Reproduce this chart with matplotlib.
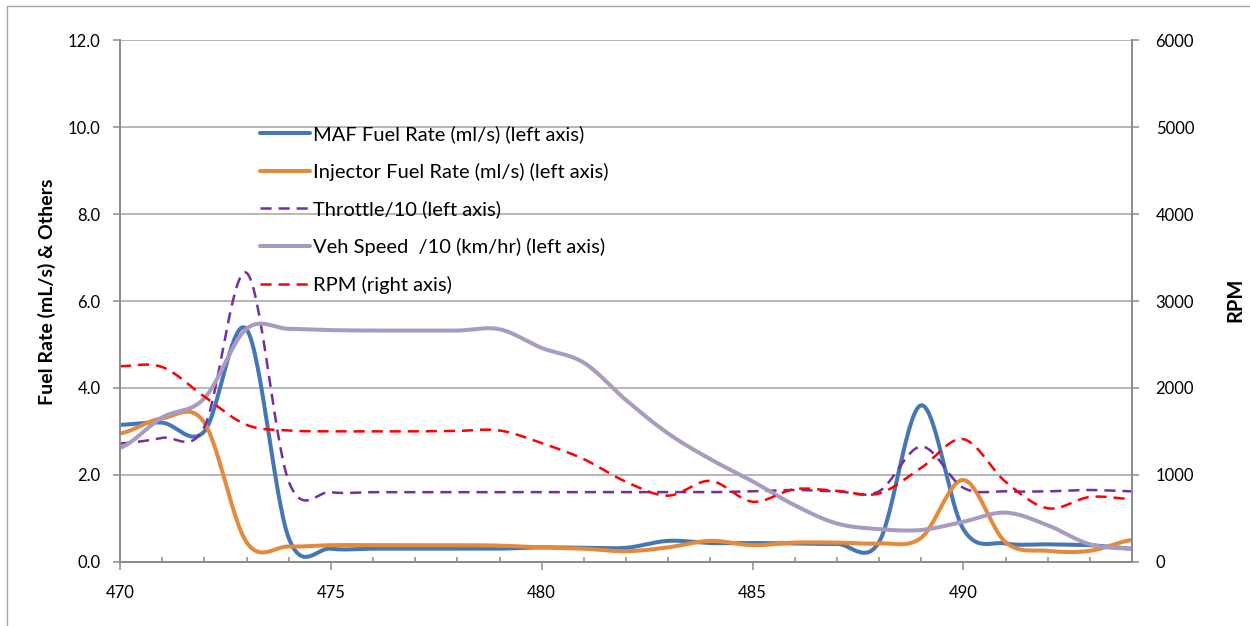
import numpy as np
import matplotlib
matplotlib.use("Agg")
import matplotlib.pyplot as plt
from matplotlib.patches import Rectangle
from matplotlib.ticker import MultipleLocator, FormatStrFormatter

plt.rcParams['font.family'] = ['Lato', 'DejaVu Sans']
plt.rcParams['lines.scale_dashes'] = False

# time axis (s)
time_s = np.arange(470, 495)

maf_fuel = [3.15, 3.2, 3.0, 5.35, 0.55, 0.3, 0.3, 0.3, 0.3, 0.3, 0.33, 0.32, 0.32,
            0.48, 0.43, 0.43, 0.42, 0.41, 0.45, 3.6, 0.75, 0.42, 0.4, 0.38, 0.3]
injector_fuel = [2.95, 3.3, 3.2, 0.45, 0.35, 0.38, 0.38, 0.38, 0.38, 0.37, 0.33, 0.3, 0.24,
                 0.33, 0.48, 0.38, 0.44, 0.44, 0.42, 0.55, 1.88, 0.45, 0.25, 0.25, 0.5]
throttle_10 = [2.72, 2.85, 3.1, 6.65, 1.85, 1.6, 1.6, 1.6, 1.6, 1.6, 1.6, 1.6, 1.6,
               1.6, 1.6, 1.62, 1.65, 1.62, 1.62, 2.65, 1.7, 1.62, 1.62, 1.65, 1.62]
veh_speed_10 = [2.62, 3.32, 3.76, 5.36, 5.36, 5.33, 5.32, 5.32, 5.32, 5.35, 4.92, 4.58, 3.72,
                2.95, 2.36, 1.85, 1.3, 0.88, 0.75, 0.73, 0.92, 1.13, 0.84, 0.4, 0.3]
rpm = [2250, 2240, 1900, 1575, 1510, 1500, 1500, 1500, 1505, 1510, 1365, 1180, 920,
       760, 930, 690, 835, 815, 785, 1080, 1410, 920, 615, 745, 720]

labels = ["MAF Fuel Rate (ml/s) (left axis)",
          "Injector Fuel Rate (ml/s) (left axis)",
          "Throttle/10 (left axis)",
          "Veh Speed  /10 (km/hr) (left axis)",
          "RPM (right axis)"]


def smooth(x, y, n=30):
    """Catmull-Rom smoothing through every point (spreadsheet-style smoothed line)."""
    x = np.asarray(x, float)
    y = np.asarray(y, float)
    m = np.empty_like(y)
    m[1:-1] = (y[2:] - y[:-2]) / 2.0
    m[0] = (y[1] - y[0]) / 2.0
    m[-1] = (y[-1] - y[-2]) / 2.0
    xs, ys = [], []
    t = np.linspace(0, 1, n, endpoint=False)
    h00 = 2 * t**3 - 3 * t**2 + 1
    h10 = t**3 - 2 * t**2 + t
    h01 = -2 * t**3 + 3 * t**2
    h11 = t**3 - t**2
    for i in range(len(x) - 1):
        xs.append(x[i] + t * (x[i + 1] - x[i]))
        ys.append(h00 * y[i] + h10 * m[i] + h01 * y[i + 1] + h11 * m[i + 1])
    xs.append([x[-1]])
    ys.append([y[-1]])
    return np.concatenate(xs), np.concatenate(ys)


fig = plt.figure(figsize=(12.5, 6.26), dpi=100)
ax = fig.add_axes([120 / 1250, 1 - 561.7 / 626, 1012 / 1250, 521.4 / 626])
ax2 = ax.twinx()

axis_grey = '#8c8c8c'
grid_grey = '#a3a3a3'

c_blue = '#4677b5'
c_orange = '#e48a3c'
c_purple = '#7030a0'
c_lav = '#a99bc0'
c_red = '#ff0000'
dash = (0, (8, 5))

h1, = ax.plot(*smooth(time_s, maf_fuel), color=c_blue, lw=2.9, solid_capstyle='round')
h2, = ax.plot(*smooth(time_s, injector_fuel), color=c_orange, lw=2.9, solid_capstyle='round')
h3, = ax.plot(*smooth(time_s, throttle_10), color=c_purple, lw=1.8, linestyle=dash)
h4, = ax.plot(*smooth(time_s, veh_speed_10), color=c_lav, lw=2.9, solid_capstyle='round')
h5, = ax2.plot(*smooth(time_s, rpm), color=c_red, lw=1.8, linestyle=dash)

ax.set_xlim(470, 494)
ax.set_ylim(0, 12)
ax2.set_ylim(0, 6000)

ax.yaxis.set_major_locator(MultipleLocator(2))
ax.yaxis.set_major_formatter(FormatStrFormatter('%.1f'))
ax2.yaxis.set_major_locator(MultipleLocator(1000))
ax.xaxis.set_major_locator(MultipleLocator(5))
ax.xaxis.set_minor_locator(MultipleLocator(1))

ax.grid(axis='y', color=grid_grey, lw=1.1)
ax.set_axisbelow(True)

for a in (ax, ax2):
    for s in a.spines.values():
        s.set_color(axis_grey)
        s.set_linewidth(1.3)
    a.spines['top'].set_visible(False)

ax.tick_params(axis='x', which='major', direction='out', length=5.5, width=1.1,
               color=axis_grey, labelsize=12, pad=11)
ax.tick_params(axis='x', which='minor', direction='in', length=3.8, width=1.1,
               color=axis_grey)
ax.tick_params(axis='y', direction='out', length=5, width=1.1, color=axis_grey,
               labelsize=12, pad=9)
ax2.tick_params(axis='y', direction='out', length=5, width=1.1, color=axis_grey,
                labelsize=12, pad=12)

ax.set_ylabel("Fuel Rate (mL/s) & Others", fontsize=14, fontweight='bold',
              va='center', ha='center')
ax.yaxis.set_label_coords(-0.072, 0.517)
ax2.set_ylabel("RPM", fontsize=14.5, fontweight='bold', rotation=90,
               va='center', ha='center')
ax2.yaxis.set_label_coords(1.102, 0.502)

ax2.legend([h1, h2, h3, h4, h5], labels, loc='upper left',
           bbox_to_anchor=(260 / 1250, 1 - 125 / 626), bbox_transform=fig.transFigure,
           frameon=False, fontsize=14.5, handlelength=2.5, handletextpad=0.15,
           labelspacing=0.98, borderpad=0, borderaxespad=0)

# outer chart frame
fig.patches.append(Rectangle((7 / 1250, -0.5), 2.0, 0.5 + (626 - 6) / 626,
                             transform=fig.transFigure, fill=False,
                             edgecolor='#a6a6a6', lw=1.0))

fig.savefig("out.png", dpi=100)
